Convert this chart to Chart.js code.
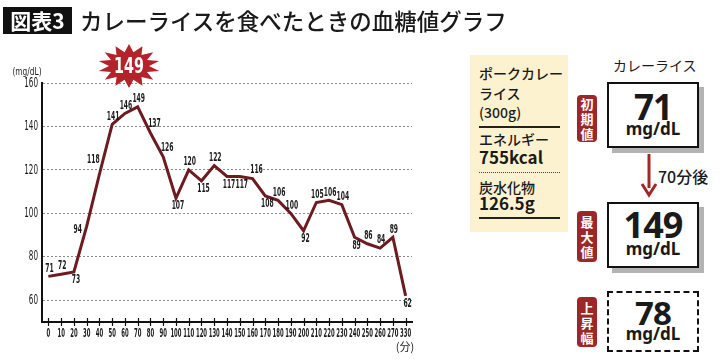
<!DOCTYPE html>
<html>
<head>
<meta charset="utf-8">
<script src="https://cdn.jsdelivr.net/npm/chart.js@4.4.1/dist/chart.umd.min.js"></script>
<style>
  body { margin: 0; width: 720px; height: 361px; overflow: hidden; background: #fff; position: relative;
         font-family: "Noto Sans CJK JP", "Noto Sans", sans-serif; color: #1a1a1a; }
  #c { position: absolute; left: 0; top: 0; }
  .t { position: absolute; white-space: nowrap; line-height: 1; }
  .tag { position: absolute; left: 3px; top: 7px; width: 69px; height: 27px; background: #111; color: #fff;
         font-weight: 700; font-size: 21px; line-height: 27px; text-align: center; }
  .title { left: 80px; top: 9px; font-size: 22.5px; font-weight: 500; }
  .info { position: absolute; left: 470px; top: 55px; width: 98px; height: 177px; background: #fdf2cf; }
  .info .t { left: 9px; font-size: 14px; font-weight: 500; }
  .info .big { font-size: 17px; font-weight: 700; }
  .rule { position: absolute; left: 9px; width: 81px; border-top: 2px solid #222; }
  .dots { position: absolute; left: 9px; width: 81px; border-top: 1.5px dotted #444; }
  .box { position: absolute; left: 607px; width: 92px; border: 2px solid #111; box-sizing: border-box; background: #fff; }
  .box.shadow { box-shadow: 5px 5px 0 #b3b3b3; }
  .box.dash { border: 2px dashed #111; }
  .box .num { position: absolute; left: 0; right: 0; text-align: center; font-family: "Noto Sans", sans-serif;
              font-weight: 700; line-height: 1; letter-spacing: -1px; }
  .box .unit { position: absolute; left: 0; right: 0; text-align: center; font-family: "Noto Sans", sans-serif;
               font-weight: 700; font-size: 17px; line-height: 1; }
  .badge { position: absolute; left: 577px; width: 20px; background: #9c2628; border-radius: 4px; color: #fff;
           font-weight: 700; font-size: 13px; line-height: 15px; text-align: center; display: flex;
           flex-direction: column; justify-content: center; }
</style>
</head>
<body>
<canvas id="c" width="460" height="361"></canvas>
<div class="tag">図表3</div>
<div class="t title">カレーライスを食べたときの血糖値グラフ</div>

<div class="info">
  <div class="t" style="top:11px">ポークカレー</div>
  <div class="t" style="top:31px">ライス</div>
  <div class="t" style="top:50px">(300g)</div>
  <div class="rule" style="top:71px"></div>
  <div class="t" style="top:77px">エネルギー</div>
  <div class="t big" style="top:93px">755kcal</div>
  <div class="dots" style="top:117px"></div>
  <div class="t" style="top:125px">炭水化物</div>
  <div class="t big" style="top:139px">126.5g</div>
  <div class="rule" style="top:162px"></div>
</div>

<div class="t" style="left:613px;top:58px;font-size:14px">カレーライス</div>

<div class="badge" style="top:95px;height:47px">初<br>期<br>値</div>
<div class="box shadow" style="top:82px;height:66px">
  <div class="num" id="v0" style="top:5px;font-size:35px"></div>
  <div class="unit" style="top:36px">mg/dL</div>
</div>

<svg style="position:absolute;left:640px;top:154px" width="18" height="46">
  <line x1="9" y1="0" x2="9" y2="34" stroke="#a0282b" stroke-width="3"/>
  <polyline points="2,30 9,41 16,30" fill="none" stroke="#a0282b" stroke-width="3"/>
</svg>
<div class="t" id="after" style="left:658px;top:168px;font-size:16px;font-weight:500"></div>

<div class="badge" style="top:211px;height:51px">最<br>大<br>値</div>
<div class="box shadow" style="top:202px;height:66px">
  <div class="num" id="vmax" style="top:3px;font-size:36px"></div>
  <div class="unit" style="top:36px">mg/dL</div>
</div>

<div class="badge" style="top:297px;height:50px">上<br>昇<br>幅</div>
<div class="box dash" style="top:291px;height:61px">
  <div class="num" id="vrise" style="top:3px;font-size:33px"></div>
  <div class="unit" style="top:32px">mg/dL</div>
</div>

<script>
// minutes after eating, and blood glucose (mg/dL)
const MINUTES = ["0", "10", "20", "30", "40", "50", "60", "70", "80", "90", "100", "110", "120", "130", "140",
                 "150", "160", "170", "180", "190", "200", "210", "220", "230", "240", "250", "260", "270", "330"];
const GLUCOSE = [71, 72, 73, 94, 118, 141, 146, 149, 137, 126, 107, 120, 115, 122, 117,
                 117, 116, 108, 106, 100, 92, 105, 106, 104, 89, 86, 84, 89, 62];
const Y_TICKS = [60, 80, 100, 120, 140, 160];

// which side of the line each value label sits on
const LABEL_SIDE = ["t", "t", "b", "l", "tl", "t", "t", "t", "tr", "tr", "b", "t", "b", "t", "b",
                    "b", "tr", "b", "t", "t", "b", "t", "t", "t", "b", "t", "t", "t", "b"];
const SIDE_OFFSET = { t: [1, -8], b: [2, 8], l: [-9, 3], tl: [-6, -15], tr: [4, -9] };

const LINE = "#6d1a20";
const NARROW = '"Liberation Sans Narrow", "DejaVu Sans Condensed", sans-serif';

// condensed text: squeeze the font so one digit is `dw` px wide (DIN-condensed look)
function cText(ctx, txt, x, y, size, o = {}) {
  ctx.save();
  ctx.font = `${o.weight || "normal"} ${size}px ${o.family || NARROW}`;
  ctx.fillStyle = o.color || "#1a1a1a";
  ctx.textAlign = o.align || "center";
  ctx.textBaseline = "middle";
  const sx = o.dw ? o.dw / ctx.measureText("0").width : (o.sx || 1);
  ctx.translate(x, y);
  ctx.scale(sx, 1);
  ctx.fillText(txt, 0, 0);
  ctx.restore();
}

function drawStar(ctx, cx, cy, n, rx, ry, irx, iry, color) {
  ctx.save();
  ctx.beginPath();
  for (let i = 0; i < n * 2; i++) {
    const a = -Math.PI / 2 + (i * Math.PI) / n;
    const out = i % 2 === 0;
    const px = cx + Math.cos(a) * (out ? rx : irx);
    const py = cy + Math.sin(a) * (out ? ry : iry);
    i ? ctx.lineTo(px, py) : ctx.moveTo(px, py);
  }
  ctx.closePath();
  ctx.fillStyle = color;
  ctx.fill();
  ctx.restore();
}

const peak = Math.max(...GLUCOSE);
const peakIdx = GLUCOSE.indexOf(peak);
document.getElementById("v0").textContent = GLUCOSE[0];
document.getElementById("vmax").textContent = peak;
document.getElementById("vrise").textContent = peak - GLUCOSE[0];
document.getElementById("after").textContent = `${MINUTES[peakIdx]}分後`;

const overlay = {
  id: "overlay",
  afterDraw(chart) {
    const { ctx, chartArea: area, scales: { x, y } } = chart;

    // small tick marks crossing the x axis
    ctx.save();
    ctx.strokeStyle = "#111";
    ctx.lineWidth = 1.2;
    MINUTES.forEach((m, i) => {
      const px = Math.round(x.getPixelForValue(i)) + 0.5;
      ctx.beginPath();
      ctx.moveTo(px, area.bottom - 4);
      ctx.lineTo(px, area.bottom + 4);
      ctx.stroke();
    });
    ctx.restore();

    MINUTES.forEach((m, i) => cText(ctx, m, x.getPixelForValue(i), area.bottom + 12, 12, { dw: 3.7, weight: "bold" }));
    Y_TICKS.forEach((v) => cText(ctx, String(v), area.left - 4, y.getPixelForValue(v), 14, { align: "right", dw: 4.6 }));

    cText(ctx, "(mg/dL)", 27, 72, 11, { sx: 0.75 });
    cText(ctx, "(分)", 405, 347, 11, { family: '"Noto Sans CJK JP", sans-serif' });

    GLUCOSE.forEach((v, i) => {
      const [dx, dy] = SIDE_OFFSET[LABEL_SIDE[i]];
      cText(ctx, String(v), x.getPixelForValue(i) + dx, y.getPixelForValue(v) + dy, 12.5, { dw: 4.2, weight: "bold" });
    });

    // burst badge with the peak value
    drawStar(ctx, 129, 66, 14, 31, 22, 20, 14, "#b2242a");
    cText(ctx, String(peak), 129, 67, 22, { weight: "bold", color: "#fff", dw: 10 });
  },
};

new Chart(document.getElementById("c"), {
  type: "line",
  data: {
    labels: MINUTES,
    datasets: [{ data: GLUCOSE, borderColor: LINE, borderWidth: 3, pointRadius: 0, tension: 0 }],
  },
  options: {
    responsive: false,
    animation: false,
    layout: { padding: { top: 83, right: 48, left: 0, bottom: 0 } },
    plugins: { legend: { display: false }, tooltip: { enabled: false } },
    scales: {
      x: {
        offset: true,
        grid: { display: false },
        border: { display: true, width: 2, color: "#111" },
        ticks: { display: false },
        afterFit: (a) => { a.height = 39; },
      },
      y: {
        min: 50,
        max: 160,
        afterBuildTicks: (a) => { a.ticks = Y_TICKS.map((v) => ({ value: v })); },
        grid: { color: "#8a8a8a", lineWidth: 1, drawTicks: false },
        border: { display: true, width: 2, color: "#111", dash: [2, 2] },
        ticks: { display: false },
        afterFit: (a) => { a.width = 42; },
      },
    },
  },
  plugins: [overlay],
});
</script>
</body>
</html>
